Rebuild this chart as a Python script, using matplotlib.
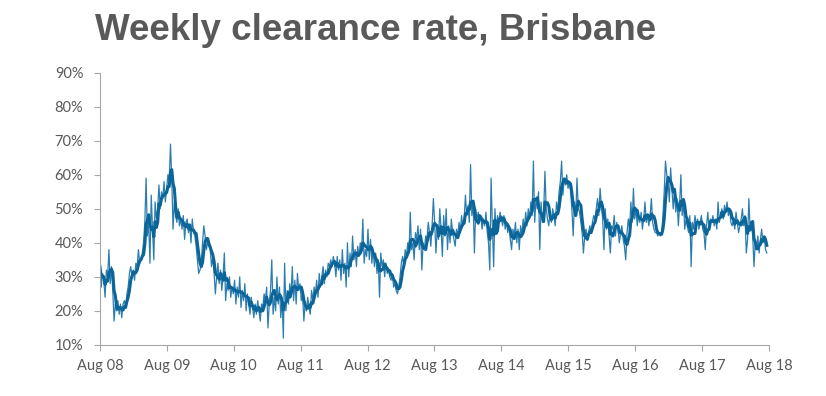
import numpy as np
import pandas as pd
import matplotlib.pyplot as plt

# weekly clearance rates (%), one list per year starting Aug of that year
y08 = [33, 27, 31, 29, 24, 32, 30, 38, 28, 33, 26, 17, 22, 20, 23,
       19, 22, 18, 22, 23, 21, 25, 27, 31, 33, 30, 32, 29, 34, 33, 38, 34,
       35, 37, 40, 46, 59, 42, 46, 34, 54, 44, 35, 52, 47, 50,
       57, 50, 55, 53, 58, 52]
y09 = [56, 60, 58, 69, 59, 44, 52, 48, 46, 50, 45, 47, 44, 48, 41, 46, 47, 43,
       45, 40, 47, 43, 42, 39, 35, 31, 32, 34, 40, 45, 42, 38, 40, 39,
       38, 33, 36, 31, 25, 30, 34, 28, 32, 26, 30, 37, 23, 28, 26, 30, 24, 27]
y10 = [25, 29, 22, 27, 24, 30, 21, 26, 23, 28, 20, 25, 22, 19, 24, 21, 18, 22,
       19, 23, 20, 17, 22, 21, 25, 23, 27, 15, 22, 26, 35, 19, 24, 20, 30, 22,
       27, 18, 24, 12, 34, 20, 26, 22, 28, 24, 33, 23, 29, 22, 31, 26]
y11 = [28, 23, 25, 17, 22, 20, 24, 21, 19, 26, 23, 27, 25, 29, 24, 31, 27, 30,
       33, 28, 32, 30, 34, 33, 35, 33, 36, 34, 30, 36, 32, 35, 29, 38, 31, 34,
       27, 40, 30, 37, 33, 42, 35, 38, 33, 39, 36, 40, 37, 47, 34, 38]
y12 = [36, 44, 35, 41, 34, 38, 33, 37, 31, 35, 24, 37, 33, 35, 30, 34, 31, 32,
       30, 29, 31, 27, 28, 26, 25, 27, 30, 34, 36, 33, 38, 36, 40, 37, 49, 38,
       40, 35, 43, 41, 45, 38, 44, 32, 40, 38, 42, 41, 46, 43, 39, 45]
y13 = [53, 46, 37, 44, 41, 50, 44, 36, 48, 42, 50, 38, 45, 40, 47, 43, 41, 39,
       44, 42, 46, 43, 48, 45, 47, 54, 48, 51, 46, 63, 48, 52, 37, 50, 47, 49,
       46, 48, 44, 47, 45, 49, 43, 40, 32, 59, 45, 33, 50, 43, 48, 46]
y14 = [49, 47, 45, 48, 44, 46, 43, 45, 41, 38, 44, 42, 46, 40, 44, 38, 45, 42,
       47, 44, 49, 45, 50, 47, 52, 48, 64, 46, 53, 50, 55, 38, 52, 46, 49, 61,
       50, 47, 45, 49, 46, 50, 48, 45, 52, 49, 55, 58, 64, 54, 59, 57]
y15 = [60, 56, 58, 55, 50, 42, 52, 48, 59, 50, 49, 46, 43, 37, 42, 44, 41, 43,
       45, 43, 46, 48, 47, 50, 53, 48, 56, 51, 47, 38, 50, 44, 47, 42, 37, 45,
       44, 48, 42, 46, 44, 40, 43, 45, 41, 39, 35, 43, 47, 44, 52, 46]
y16 = [56, 47, 50, 45, 48, 46, 49, 44, 47, 52, 46, 48, 45, 48, 53, 46, 44, 43,
       43, 42, 43, 42, 43, 48, 55, 64, 60, 58, 52, 62, 56, 50, 55, 49, 53, 45,
       51, 60, 48, 52, 44, 47, 45, 43, 48, 33, 46, 44, 48, 45, 47, 44]
y17 = [46, 48, 44, 43, 38, 45, 49, 44, 47, 46, 48, 45, 47, 44, 52, 46, 48, 50,
       47, 51, 49, 52, 48, 50, 46, 45, 47, 44, 49, 46, 43, 45, 47, 50, 45, 48,
       37, 41, 53, 44, 46, 42, 33, 40, 38, 42, 37, 41, 44, 40, 42, 38, 37]

rate = np.array(y08 + y09 + y10 + y11 + y12 + y13 + y14 + y15 + y16 + y17, dtype=float) / 100
weeks = pd.date_range("2008-08-01", periods=len(rate), freq="7D")
smooth = pd.Series(rate).rolling(4, min_periods=1).mean()

years = list(range(2008, 2019))
tick_labels = ["Aug %02d" % (y % 100) for y in years]

fig = plt.figure(figsize=(8.26, 3.96), dpi=100)
ax = fig.add_axes([0.121, 0.129, 0.81, 0.6876])

ax.plot(weeks, rate, color="#2b7db0", lw=0.9)
ax.plot(weeks, smooth, color="#0c6598", lw=2.2)

ax.set_ylim(0.1, 0.9)
ax.set_yticks(np.arange(0.1, 0.91, 0.1))
ax.set_yticklabels(["%d%%" % v for v in range(10, 91, 10)])
ax.set_xlim(pd.Timestamp("2008-08-01"), pd.Timestamp("2018-08-01"))
ax.set_xticks([pd.Timestamp("%d-08-01" % y) for y in years])
ax.set_xticklabels(tick_labels)

for s in ["top", "right"]:
    ax.spines[s].set_visible(False)
for s in ["left", "bottom"]:
    ax.spines[s].set_color("#a6a6a6")
ax.tick_params(axis="both", colors="#a6a6a6", labelcolor="#595959",
               labelsize=10.5, length=4)
ax.tick_params(axis="x", pad=6)
ax.tick_params(axis="y", pad=8)
for lab in ax.get_xticklabels() + ax.get_yticklabels():
    lab.set_family("Lato")

fig.text(0.115, 0.899, "Weekly clearance rate, Brisbane", fontsize=26.5,
         fontweight="bold", color="#595959", family="Liberation Sans",
         va="baseline")

fig.savefig("out.png", dpi=100)
